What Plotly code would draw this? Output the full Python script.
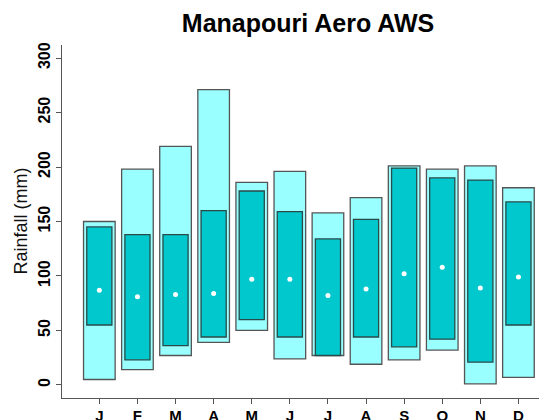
import plotly.graph_objects as go

months = ["J", "F", "M", "A", "M", "J", "J", "A", "S", "O", "N", "D"]
outer_low = [5, 14, 27, 39, 50, 24, 27, 19, 23, 32, 1, 7]
outer_high = [150, 198, 219, 271, 186, 196, 158, 172, 201, 198, 201, 181]
inner_low = [55, 23, 36, 44, 60, 44, 27, 44, 35, 42, 21, 55]
inner_high = [145, 138, 138, 160, 178, 159, 134, 152, 199, 190, 188, 168]
mean_vals = [87, 81, 83, 84, 97, 97, 82, 88, 102, 108, 89, 99]
y_ticks = [0, 50, 100, 150, 200, 250, 300]

pos = list(range(1, 13))

# page body has an 8px margin, so the figure is sized/offset to compensate
W, H = 539, 412

fig = go.Figure()
fig.add_trace(go.Bar(
    x=pos, y=[h - l for h, l in zip(outer_high, outer_low)], base=outer_low,
    width=0.83, marker=dict(color="#99FFFF", line=dict(color="#555555", width=1.3)),
    hoverinfo="skip"))
fig.add_trace(go.Bar(
    x=pos, y=[h - l for h, l in zip(inner_high, inner_low)], base=inner_low,
    width=0.66, marker=dict(color="#00C8CD", line=dict(color="#2a4a4a", width=1.3)),
    hoverinfo="skip"))
fig.add_trace(go.Scatter(
    x=pos, y=mean_vals, mode="markers",
    marker=dict(color="white", size=5, line=dict(width=0))))

fig.update_layout(
    width=W, height=H,
    margin=dict(l=54, r=0, t=37, b=22),
    barmode="overlay", showlegend=False,
    paper_bgcolor="white", plot_bgcolor="white",
    font=dict(family="Liberation Sans, Arial, sans-serif", color="black"),
    title=dict(text="<b>Manapouri Aero AWS</b>", x=300 / W, xanchor="center",
               y=1 - 15 / H, yanchor="middle", font=dict(size=25)),
    annotations=[dict(text="Rainfall (mm)", textangle=-90, xref="paper", yref="paper",
                      x=0, y=0.5, xanchor="center", yanchor="middle", xshift=-42,
                      showarrow=False, font=dict(size=18, color="#111111"))],
)
fig.update_xaxes(
    range=[0.02, 0.02 + 485 / 38.1], tickvals=pos, ticktext=["<b>%s</b>" % m for m in months],
    showline=True, linecolor="#555555", linewidth=1, ticks="outside", ticklen=5,
    tickcolor="#555555", showgrid=False, zeroline=False, tickfont=dict(size=15),
    ticklabelstandoff=-1, automargin=False)
fig.update_yaxes(
    range=[-12, 312], tickvals=y_ticks,
    ticktext=["<b>%d</b>" % v for v in y_ticks],
    tickangle=-90, showline=True, linecolor="#555555", linewidth=1, ticks="outside",
    ticklen=5, tickcolor="#555555", showgrid=False, zeroline=False,
    tickfont=dict(size=16), ticklabelstandoff=0, automargin=False)

fig.write_html("out.html")
